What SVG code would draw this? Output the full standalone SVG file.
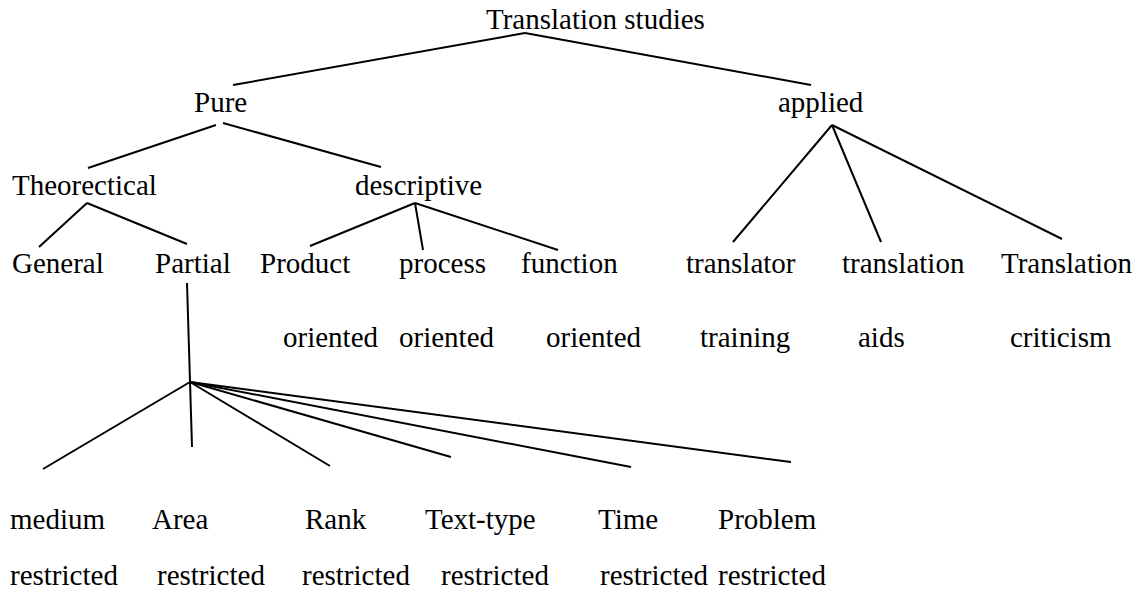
<svg xmlns="http://www.w3.org/2000/svg" width="1138" height="591" viewBox="0 0 1138 591">
  <style>
    text { font-family: "Liberation Serif", "Times New Roman", serif; font-size: 29px; fill: #000; }
    .edge { stroke: #000; stroke-width: 2; fill: none; stroke-linecap: butt; }
  </style>
  <rect width="1138" height="591" fill="#fff"/>

  <!-- connectors -->
  <g id="connectors">
    <!-- Translation studies -->
    <line class="edge" x1="525" y1="33" x2="233" y2="85"/>
    <line class="edge" x1="525" y1="33" x2="811" y2="85"/>
    <!-- Pure -->
    <line class="edge" x1="216" y1="125" x2="88" y2="168"/>
    <line class="edge" x1="223" y1="123" x2="381" y2="167"/>
    <!-- applied -->
    <line class="edge" x1="832" y1="125" x2="733" y2="242"/>
    <line class="edge" x1="832" y1="125" x2="881" y2="242"/>
    <line class="edge" x1="832" y1="125" x2="1062" y2="239"/>
    <!-- Theorectical -->
    <line class="edge" x1="87" y1="203" x2="39" y2="247"/>
    <line class="edge" x1="87" y1="203" x2="187" y2="244"/>
    <!-- descriptive -->
    <line class="edge" x1="415" y1="203" x2="310" y2="246"/>
    <line class="edge" x1="415" y1="203" x2="423" y2="250"/>
    <line class="edge" x1="415" y1="203" x2="558" y2="250"/>
    <!-- Partial -->
    <line class="edge" x1="187" y1="283" x2="192" y2="447"/>
    <line class="edge" x1="190" y1="382" x2="43" y2="469"/>
    <line class="edge" x1="190" y1="382" x2="330" y2="466"/>
    <line class="edge" x1="190" y1="382" x2="451" y2="457"/>
    <line class="edge" x1="190" y1="382" x2="631" y2="467"/>
    <line class="edge" x1="190" y1="382" x2="791" y2="462"/>
  </g>

  <g id="translation-studies"><text x="486" y="29">Translation studies</text></g>

  <g id="pure"><text x="194" y="112">Pure</text></g>
  <g id="applied"><text x="778" y="112">applied</text></g>

  <g id="theorectical"><text x="12" y="195">Theorectical</text></g>
  <g id="descriptive"><text x="355" y="195">descriptive</text></g>

  <g id="general"><text x="12" y="273">General</text></g>
  <g id="partial"><text x="155" y="273">Partial</text></g>
  <g id="product-oriented"><text x="260" y="273">Product</text><text x="283" y="347">oriented</text></g>
  <g id="process-oriented"><text x="399" y="273">process</text><text x="399" y="347">oriented</text></g>
  <g id="function-oriented"><text x="521" y="273">function</text><text x="546" y="347">oriented</text></g>
  <g id="translator-training"><text x="686" y="273">translator</text><text x="700" y="347">training</text></g>
  <g id="translation-aids"><text x="842" y="273">translation</text><text x="858" y="347">aids</text></g>
  <g id="translation-criticism"><text x="1001" y="273">Translation</text><text x="1010" y="347">criticism</text></g>

  <g id="medium-restricted"><text x="10" y="529">medium</text><text x="10" y="585">restricted</text></g>
  <g id="area-restricted"><text x="152" y="529">Area</text><text x="157" y="585">restricted</text></g>
  <g id="rank-restricted"><text x="305" y="529">Rank</text><text x="302" y="585">restricted</text></g>
  <g id="text-type-restricted"><text x="425" y="529">Text-type</text><text x="441" y="585">restricted</text></g>
  <g id="time-restricted"><text x="598" y="529">Time</text><text x="600" y="585">restricted</text></g>
  <g id="problem-restricted"><text x="718" y="529">Problem</text><text x="718" y="585">restricted</text></g>
</svg>
